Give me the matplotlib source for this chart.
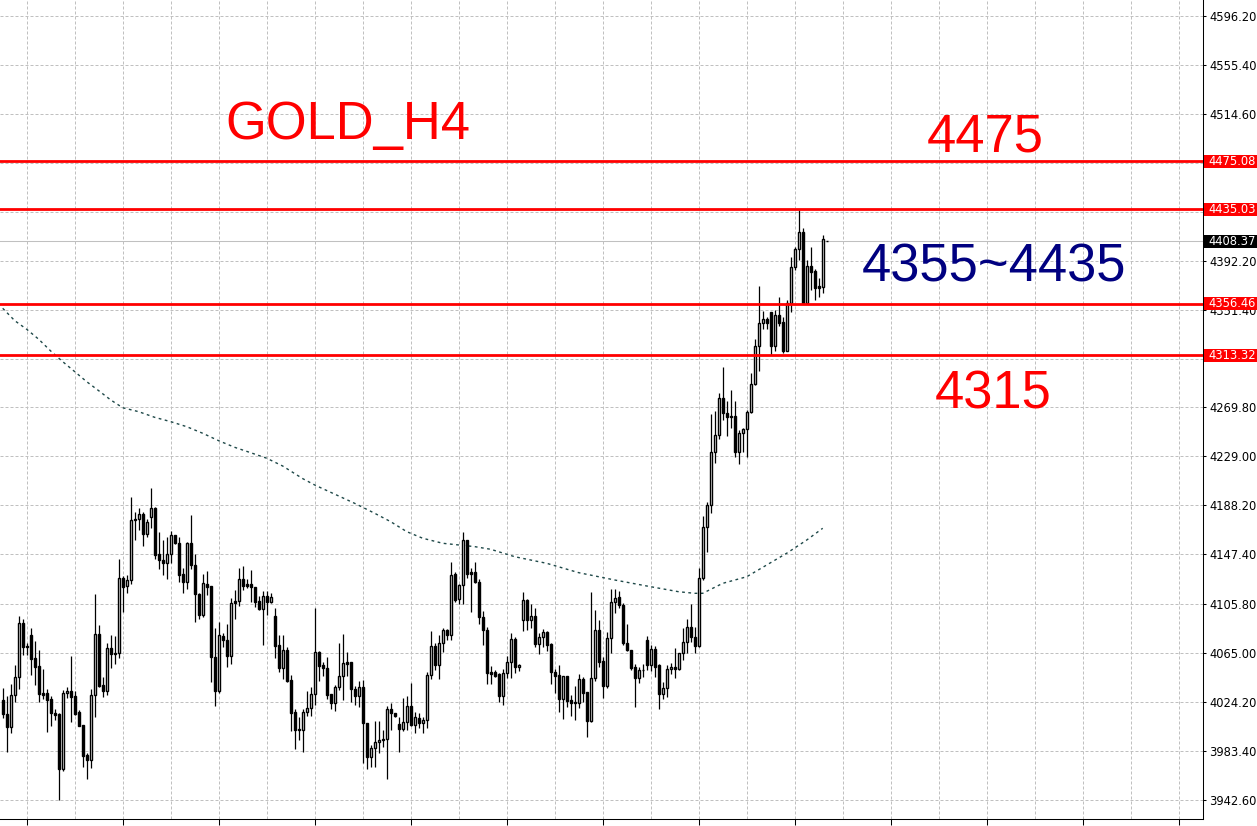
import matplotlib
matplotlib.use("Agg")
import matplotlib.pyplot as plt
import matplotlib.transforms as mtransforms
from matplotlib.patches import Rectangle
import numpy as np

# H4 candles, oldest first
opens = [
    4026.0, 4014.0, 4003.2, 4029.9, 4044.9, 4089.9, 4071.3, 4079.9, 4060.7, 4054.1,
    4031.5, 4031.5, 4026.5, 4014.9, 4014.0, 3968.7, 4031.5, 4033.2, 4029.0, 4015.7,
    4004.9, 3979.9, 3975.7, 4029.9, 4080.7, 4038.5, 4033.8, 4069.1, 4065.2, 4064.9,
    4127.4, 4120.7, 4126.0, 4176.9, 4176.6, 4180.8, 4164.1, 4178.3, 4185.8, 4147.4,
    4142.7, 4139.9, 4147.7, 4163.3, 4156.6, 4130.8, 4124.1, 4156.6, 4138.3, 4114.1,
    4096.9, 4122.4, 4120.7, 4061.5, 4033.8, 4079.3, 4075.7, 4062.9, 4108.2, 4108.2,
    4126.9, 4122.4, 4122.4, 4120.2, 4108.2, 4101.6, 4112.4, 4107.9, 4095.7, 4071.8,
    4053.0, 4067.4, 4042.4, 4015.7, 4001.8, 4000.7, 4015.7, 4019.6, 4030.7, 4065.7,
    4055.2, 4052.4, 4030.7, 4023.8, 4037.1, 4046.3, 4057.4, 4057.4, 4035.4, 4029.6,
    4037.1, 4006.5, 3978.7, 3985.7, 3990.7, 3993.5, 3993.2, 4018.2, 4014.9, 4005.7,
    4001.5, 4007.9, 4020.7, 4004.9, 4011.3, 4006.5, 4009.3, 4046.6, 4070.7, 4055.4,
    4073.2, 4084.1, 4079.9, 4130.8, 4109.9, 4121.6, 4159.1, 4132.4, 4132.4, 4124.1,
    4095.5, 4084.6, 4049.1, 4049.1, 4047.7, 4029.0, 4048.2, 4057.4, 4076.8, 4053.2,
    4093.0, 4109.4, 4092.4, 4095.7, 4073.0, 4078.2, 4082.4, 4072.7, 4049.1, 4046.6,
    4027.1, 4046.0, 4025.7, 4023.2, 4023.2, 4043.5, 4032.7, 4008.8, 4044.0, 4084.3,
    4058.2, 4037.9, 4077.4, 4107.7, 4111.6, 4105.2, 4073.8, 4067.4, 4053.5, 4044.6,
    4051.3, 4076.0, 4055.4, 4068.5, 4055.2, 4031.3, 4035.7, 4051.6, 4053.5, 4051.6,
    4064.9, 4074.1, 4086.6, 4078.2, 4071.3, 4127.4, 4169.9, 4188.6, 4232.5, 4246.6,
    4277.5, 4265.0, 4262.8, 4262.8, 4233.0, 4248.3, 4251.6, 4265.8, 4289.4, 4321.1,
    4340.6, 4343.3, 4349.2, 4321.4, 4346.7, 4341.1, 4317.2, 4357.2, 4387.3, 4401.7,
    4415.9, 4357.2, 4387.8, 4383.6, 4371.1, 4370.6, 4408.4,
]
highs = [
    4035.7, 4029.3, 4039.3, 4054.9, 4096.0, 4093.2, 4073.8, 4085.7, 4074.9, 4067.4,
    4051.8, 4034.9, 4029.3, 4018.2, 4014.9, 4034.3, 4037.1, 4062.7, 4033.5, 4017.6,
    4005.1, 3982.1, 4034.9, 4114.1, 4088.2, 4044.9, 4073.2, 4080.2, 4079.3, 4143.3,
    4129.4, 4130.2, 4194.9, 4182.4, 4185.8, 4182.4, 4176.6, 4202.5, 4187.2, 4165.8,
    4159.1, 4162.2, 4166.9, 4163.5, 4161.9, 4135.8, 4158.0, 4180.2, 4147.7, 4115.5,
    4130.8, 4133.5, 4121.0, 4085.7, 4091.0, 4081.6, 4089.3, 4111.3, 4117.7, 4136.3,
    4137.7, 4126.9, 4134.4, 4120.5, 4112.7, 4116.9, 4116.9, 4114.9, 4102.7, 4079.9,
    4080.2, 4070.2, 4046.6, 4018.8, 4012.1, 4018.2, 4033.2, 4037.1, 4102.7, 4066.6,
    4057.9, 4062.1, 4031.0, 4038.2, 4073.5, 4081.0, 4065.7, 4057.9, 4037.6, 4041.5,
    4042.7, 4006.8, 3988.5, 4008.2, 4008.2, 4001.3, 4021.3, 4023.2, 4015.4, 4011.8,
    4027.9, 4029.6, 4039.9, 4016.0, 4014.9, 4011.5, 4049.6, 4083.2, 4073.2, 4079.9,
    4085.7, 4084.9, 4141.0, 4132.7, 4122.4, 4165.8, 4159.4, 4136.3, 4140.8, 4127.1,
    4100.5, 4087.1, 4054.3, 4051.0, 4048.2, 4051.6, 4062.7, 4081.8, 4078.2, 4055.7,
    4116.0, 4109.9, 4105.7, 4103.0, 4081.6, 4085.5, 4083.8, 4073.5, 4051.6, 4055.2,
    4046.3, 4046.3, 4029.9, 4037.6, 4047.4, 4045.4, 4033.0, 4116.0, 4101.0, 4092.7,
    4062.1, 4082.4, 4118.8, 4118.3, 4116.9, 4106.6, 4089.1, 4067.7, 4056.0, 4053.8,
    4056.0, 4079.3, 4071.8, 4070.7, 4055.7, 4041.3, 4055.2, 4057.1, 4069.6, 4065.5,
    4085.7, 4093.2, 4106.0, 4087.1, 4135.8, 4179.4, 4191.3, 4264.4, 4267.2, 4281.9,
    4303.9, 4275.3, 4284.4, 4275.0, 4251.1, 4252.5, 4267.8, 4298.3, 4326.7, 4371.1,
    4350.3, 4345.6, 4349.7, 4351.1, 4362.2, 4345.6, 4359.5, 4395.6, 4403.4, 4434.5,
    4419.2, 4392.8, 4403.4, 4385.0, 4377.5, 4413.7, 4408.4,
]
lows = [
    4011.3, 3982.4, 3998.2, 4024.6, 4035.4, 4063.8, 4063.8, 4047.1, 4038.8, 4024.6,
    4026.5, 3999.6, 4004.6, 4009.3, 3942.6, 3967.1, 4027.4, 4007.9, 4013.2, 4004.3,
    3969.9, 3959.8, 3969.0, 4012.1, 4036.5, 4028.8, 4029.9, 4053.0, 4056.3, 4060.7,
    4099.4, 4115.5, 4122.4, 4159.4, 4168.0, 4154.6, 4162.2, 4169.7, 4143.3, 4135.5,
    4130.2, 4126.9, 4139.9, 4156.4, 4124.1, 4115.5, 4118.5, 4135.5, 4091.3, 4093.2,
    4095.2, 4113.8, 4040.7, 4021.3, 4032.1, 4070.4, 4053.8, 4055.7, 4093.2, 4104.4,
    4118.0, 4119.6, 4107.9, 4103.8, 4101.0, 4072.1, 4096.9, 4107.1, 4060.7, 4049.6,
    4043.2, 4041.3, 4000.4, 3985.4, 3992.6, 3982.9, 4012.9, 4012.9, 4021.8, 4041.8,
    4046.3, 4027.1, 4018.8, 4016.5, 4034.3, 4026.0, 4046.3, 4024.0, 4022.1, 4020.4,
    3973.2, 3968.7, 3970.4, 3969.9, 3982.1, 3987.1, 3959.8, 4001.0, 4011.5, 3982.6,
    4000.4, 4000.7, 4004.6, 3998.2, 4002.4, 3998.8, 4002.9, 4043.2, 4051.0, 4043.8,
    4066.3, 4076.3, 4076.0, 4107.9, 4106.0, 4105.7, 4128.0, 4099.6, 4123.5, 4089.3,
    4072.1, 4039.6, 4039.6, 4045.4, 4024.3, 4021.5, 4044.3, 4044.6, 4048.2, 4050.4,
    4083.2, 4084.3, 4086.3, 4070.2, 4064.6, 4069.9, 4067.1, 4039.6, 4031.5, 4016.3,
    4010.1, 4020.4, 4012.6, 4009.3, 4019.0, 4024.6, 3995.4, 4007.4, 4042.1, 4053.8,
    4027.9, 4036.3, 4064.9, 4098.2, 4103.0, 4071.8, 4067.1, 4051.0, 4020.4, 4040.2,
    4045.4, 4051.0, 4050.4, 4045.4, 4018.2, 4026.5, 4028.8, 4047.7, 4044.0, 4051.0,
    4059.3, 4064.9, 4074.1, 4064.9, 4069.9, 4126.0, 4149.6, 4182.2, 4223.9, 4243.3,
    4259.4, 4246.1, 4252.5, 4228.9, 4222.5, 4233.0, 4228.9, 4265.0, 4288.3, 4300.6,
    4335.0, 4335.0, 4313.6, 4317.2, 4337.8, 4315.6, 4316.5, 4349.7, 4384.5, 4392.8,
    4356.7, 4356.5, 4367.8, 4359.5, 4361.7, 4365.6, 4408.3,
]
closes = [
    4014.0, 4003.2, 4029.9, 4044.9, 4089.9, 4070.4, 4069.9, 4060.4, 4053.8, 4030.7,
    4030.4, 4026.3, 4015.4, 4013.8, 3968.7, 4031.5, 4033.2, 4028.8, 4014.0, 4004.6,
    3979.6, 3975.7, 4029.9, 4080.7, 4037.9, 4033.8, 4069.1, 4064.1, 4064.1, 4127.4,
    4120.5, 4126.0, 4175.8, 4175.8, 4180.8, 4164.1, 4174.1, 4185.8, 4147.2, 4142.7,
    4139.9, 4147.7, 4163.3, 4156.6, 4130.5, 4124.1, 4156.6, 4138.3, 4114.1, 4096.9,
    4123.3, 4120.5, 4061.5, 4033.8, 4079.9, 4075.7, 4062.9, 4107.1, 4107.1, 4126.9,
    4121.3, 4121.3, 4119.9, 4107.9, 4101.6, 4112.4, 4107.9, 4111.6, 4071.3, 4053.0,
    4067.4, 4041.8, 4014.9, 4001.3, 4000.7, 4015.7, 4019.6, 4030.7, 4065.7, 4054.6,
    4052.4, 4030.4, 4023.8, 4037.1, 4046.3, 4056.6, 4056.3, 4035.4, 4029.6, 4037.1,
    4006.5, 3978.7, 3985.7, 3990.7, 3992.4, 3992.6, 4018.2, 4014.9, 4012.9, 4001.5,
    4007.9, 4020.7, 4004.9, 4011.5, 4006.5, 4009.3, 4046.6, 4070.7, 4055.4, 4073.2,
    4084.1, 4079.9, 4129.9, 4109.4, 4121.6, 4159.1, 4131.3, 4131.3, 4124.1, 4094.9,
    4084.6, 4048.2, 4047.9, 4046.3, 4029.0, 4048.2, 4057.4, 4076.8, 4053.2, 4054.9,
    4109.1, 4092.4, 4095.7, 4073.0, 4078.2, 4082.4, 4072.1, 4049.1, 4046.3, 4027.1,
    4046.0, 4025.1, 4023.8, 4024.3, 4043.5, 4032.1, 4008.8, 4044.0, 4084.3, 4057.9,
    4037.9, 4077.4, 4107.7, 4110.7, 4105.2, 4073.8, 4067.4, 4053.0, 4044.6, 4051.0,
    4050.7, 4055.2, 4068.5, 4053.8, 4031.3, 4035.7, 4051.6, 4053.2, 4051.6, 4064.9,
    4074.1, 4086.6, 4078.2, 4071.3, 4127.4, 4169.9, 4188.6, 4232.5, 4246.6, 4277.5,
    4265.0, 4262.2, 4262.2, 4233.0, 4248.3, 4251.6, 4265.8, 4289.4, 4321.1, 4340.0,
    4343.3, 4340.6, 4321.4, 4346.7, 4340.6, 4317.2, 4357.2, 4387.3, 4401.7, 4415.9,
    4357.2, 4387.8, 4383.1, 4369.7, 4369.7, 4410.0, 4408.37,
]

# moving average, sampled at some bars
ma_bar = [0, 3, 6, 9, 12, 15, 18, 21, 24, 27, 30, 34, 38, 42, 46, 50, 54, 58, 62, 66,
          70, 75, 78, 88, 93, 97, 101, 105, 110, 114, 118, 122, 128, 136, 144, 153, 161,
          169, 173, 175, 180, 186, 191, 196, 201, 205]
ma_val = [4352.5, 4342.2, 4335.0, 4326.7, 4316.9, 4308.0, 4299.7, 4291.3, 4283.8, 4276.1,
          4269.6, 4266.3, 4261.6, 4258.0, 4253.8, 4248.3, 4242.1, 4236.6, 4232.1, 4227.5,
          4221.0, 4210.5, 4205.2, 4189.9, 4181.6, 4174.6, 4166.3, 4160.8, 4156.6, 4155.2,
          4153.8, 4151.6, 4145.4, 4139.9, 4132.1, 4126.0, 4121.0, 4116.2, 4114.9, 4114.9,
          4123.2, 4128.7, 4138.5, 4148.3, 4159.3, 4169.1]

levels = [4475.08, 4435.03, 4356.46, 4313.32]
current_price = 4408.37

price_ticks = [4596.20, 4555.40, 4514.60, 4473.80, 4433.00, 4392.20, 4351.40, 4310.60,
               4269.80, 4229.00, 4188.20, 4147.40, 4105.80, 4065.00, 4024.20, 3983.40,
               3942.60]
# labels hidden behind the level boxes are blank
price_labels = ["4596.20", "4555.40", "4514.60", "", "", "4392.20", "4351.40", "",
                "4269.80", "4229.00", "4188.20", "4147.40", "4105.80", "4065.00",
                "4024.20", "3983.40", "3942.60"]

W, H = 1257, 826
fig = plt.figure(figsize=(W / 100, H / 100), dpi=100)
ax = fig.add_axes([0, 6.7 / H, 1203.3 / W, 819.3 / H])

o = np.array(opens)
c = np.array(closes)
x = np.arange(len(o))

ax.vlines(x, lows, highs, color="black", linewidth=0.9, zorder=3)
fills = ["white" if cc > oo else "black" for oo, cc in zip(o, c)]
ax.bar(x, np.abs(c - o), bottom=np.minimum(o, c), width=0.55, color=fills,
       edgecolor="black", linewidth=1.0, zorder=4)

ax.plot(ma_bar, ma_val, color="#1E4848", linewidth=1.0, linestyle=(0, (2, 2.5)), zorder=2)

ax.axhline(current_price, color="#C0C0C0", linewidth=0.75, zorder=1)
for lv in levels:
    ax.axhline(lv, color="red", linewidth=2.0, zorder=5)

ax.set_xlim(-0.675, 300.15)
ax.set_ylim(3926.5, 4609.5)

ax.set_xticks(np.arange(6, 301, 24))
ax.set_xticks(np.arange(18, 301, 24), minor=True)
ax.set_xticklabels([])
ax.set_yticks(price_ticks)
ax.set_yticklabels(price_labels)
ax.yaxis.tick_right()
ax.grid(True, which="both", color="#C0C0C0", linestyle=(0, (3, 2)), linewidth=0.72, zorder=0)
ax.set_axisbelow(True)
ax.tick_params(axis="x", which="major", direction="out", length=4.5, width=0.75)
ax.tick_params(axis="x", which="minor", length=0)
ax.tick_params(axis="y", direction="out", length=2.5, width=0.75, pad=2.0,
               labelsize=8.3, colors="black")
for side in ["left", "top"]:
    ax.spines[side].set_visible(False)
for side in ["right", "bottom"]:
    ax.spines[side].set_linewidth(0.75)

# price boxes on the right axis
trans = mtransforms.blended_transform_factory(fig.transFigure, ax.transData)
px = (4609.5 - 3926.5) / 819.3
boxes = [(v, "red") for v in levels] + [(current_price, "black")]
for v, col in boxes:
    fig.add_artist(Rectangle((1204 / W, v - 6.5 * px), 53 / W, 13 * px, transform=trans,
                             facecolor=col, edgecolor="none", zorder=2))
    fig.text(1208 / W, v, f"{v:.2f}", transform=trans, color="white", fontsize=8.3,
             va="center", ha="left", zorder=3)

big = dict(family="Liberation Sans", fontsize=37.8, ha="left", va="baseline")
fig.text(225 / W, 1 - 139.3 / H, "GOLD_H4", color="red", **big)
fig.text(927 / W, 1 - 151.7 / H, "4475", color="red", **big)
fig.text(862 / W, 1 - 281.7 / H, "4355~4435", color="#000080", **big)
fig.text(935 / W, 1 - 408.3 / H, "4315", color="red", **big)

fig.savefig("out.png", dpi=100)
